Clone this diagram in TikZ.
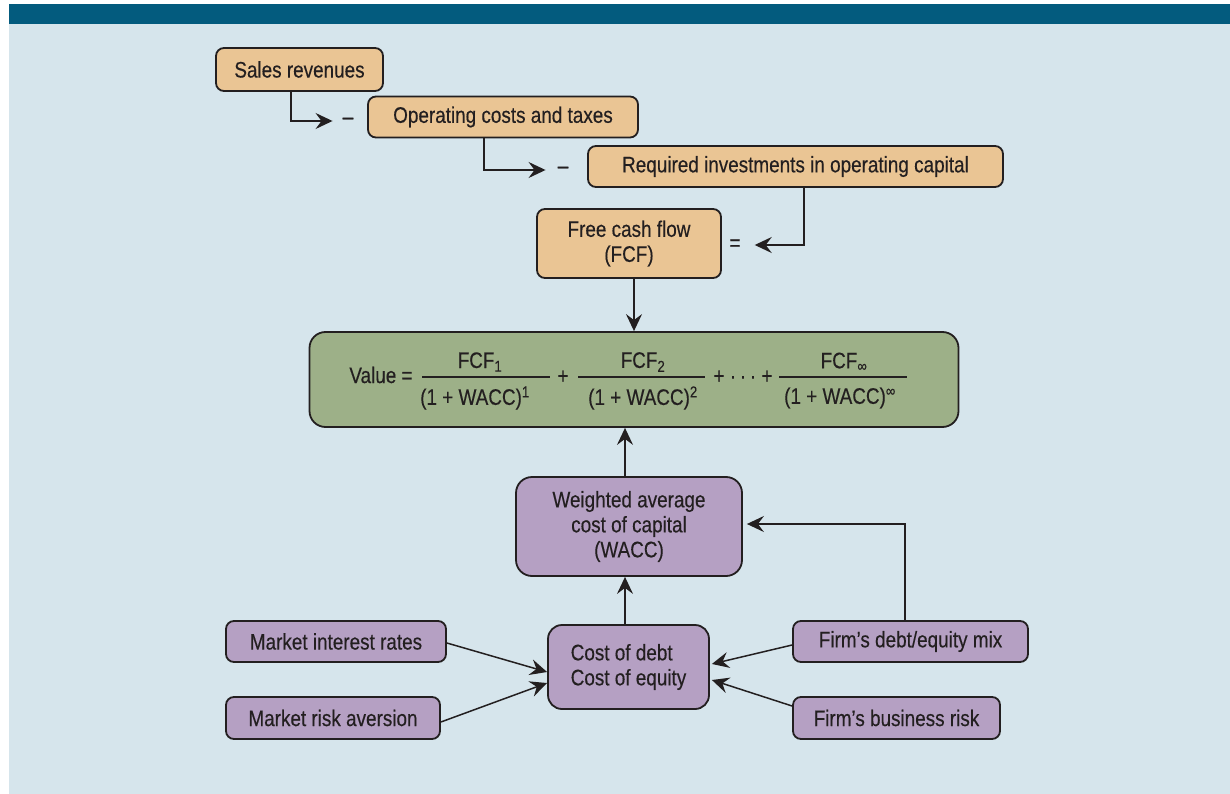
\documentclass[tikz,border=0pt]{standalone}
\usepackage{fontspec}
\setmainfont{Liberation Sans}[FakeStretch=0.84,FakeBold=0.3]
\usetikzlibrary{arrows.meta}
\definecolor{bgblue}{HTML}{D6E5EC}
\definecolor{barblue}{HTML}{035B7E}
\definecolor{ink}{HTML}{231F20}
\definecolor{sand}{HTML}{EAC594}
\definecolor{sage}{HTML}{9DB088}
\definecolor{lilac}{HTML}{B5A0C3}
\begin{document}
\begin{tikzpicture}[x=1pt,y=-1pt,
  label font/.style={font=\fontsize{22.5}{25}\selectfont},
  box/.style={draw=ink, line width=1.8pt, rounded corners=8pt, text=ink,
    label font, inner sep=0pt, align=center},
  cashbox/.style={box, fill=sand},
  valuebox/.style={box, fill=sage, rounded corners=16pt},
  costbox/.style={box, fill=lilac},
  txt/.style={text=ink, label font, inner sep=0pt},
  link/.style={draw=ink, line width=1.5pt,
    -{Stealth[length=17pt,width=16pt,inset=6pt]}},
  fracbar/.style={draw=ink, line width=1.2pt}
]
% canvas
\useasboundingbox (0,0) rectangle (1230,794);
\fill[bgblue] (9,24) rectangle (1230,794);
\fill[barblue] (9,4) rectangle (1230,24);

% free cash flow build-up
\node[cashbox, minimum width=167pt, minimum height=43pt] (sales) at (299.5,69.5) {Sales revenues};
\node[cashbox, minimum width=270pt, minimum height=41pt] (opc) at (503,117) {Operating costs and taxes};
\node[cashbox, minimum width=415pt, minimum height=41pt] (req) at (795.5,166.5) {Required investments in operating capital};
\node[cashbox, minimum width=184pt, minimum height=69pt] (fcf) at (629,243.5) {Free cash flow\\(FCF)};

\node[txt] (minus1) at (348,121) {–};
\node[txt] (minus2) at (563,170) {–};
\node[txt] (equals) at (735,245) {=};

\draw[link] ([xshift=-8.5pt]sales.south) |- ([xshift=-10pt]minus1.west);
\draw[link] ([xshift=-19pt]opc.south) |- ([xshift=-12pt]minus2.west);
\draw[link] ([xshift=8.5pt]req.south) |- ([xshift=14pt]equals.east);

% valuation formula
\node[valuebox, minimum width=649pt, minimum height=95pt] (value) at (634,379.5) {};
\node[txt] (vlab) at (381,375) {Value =};
\node[txt] (num1) at (480,362) {FCF\textsubscript{1}};
\node[txt] (den1) at (475,398) {(1 + WACC)\textsuperscript{1}};
\node[txt] (plus1) at (563,377) {+};
\node[txt] (num2) at (643,362) {FCF\textsubscript{2}};
\node[txt] (den2) at (643,398) {(1 + WACC)\textsuperscript{2}};
\node[txt] (dots) at (743,377) {+ ·\,·\,· +};
\node[txt] (num3) at (844,362) {FCF\textsubscript{∞}};
\node[txt] (den3) at (840,398) {(1 + WACC)\textsuperscript{∞}};
\draw[fracbar] (422,377) -- (550,377);
\draw[fracbar] (578,377) -- (705,377);
\draw[fracbar] (779,377) -- (907,377);

\draw[link] ([xshift=5pt]fcf.south) -- ([xshift=0pt]value.north);

% cost of capital
\node[costbox, rounded corners=16pt, minimum width=226pt, minimum height=99pt] (wacc) at (629,526.5) {Weighted average\\cost of capital\\(WACC)};
\node[costbox, rounded corners=14pt, minimum width=161pt, minimum height=84pt, align=left] (coe) at (628.5,667) {Cost of debt\\Cost of equity};
\node[costbox, minimum width=220pt, minimum height=41pt] (mir) at (336,641.5) {Market interest rates};
\node[costbox, minimum width=214pt, minimum height=42pt] (mra) at (333,718) {Market risk aversion};
\node[costbox, minimum width=235pt, minimum height=41pt] (fdm) at (910.5,641.5) {Firm’s debt/equity mix};
\node[costbox, minimum width=207pt, minimum height=42pt] (fbr) at (896.5,718) {Firm’s business risk};

\draw[link] ([xshift=-4pt]wacc.north) -- ([xshift=-9pt]value.south);
\draw[link] ([xshift=-3.5pt]coe.north) -- ([xshift=-4pt]wacc.south);
\draw[link] ([xshift=-5.5pt]fdm.north) |- ([xshift=4pt,yshift=2.5pt]wacc.east);
\draw[link] ([yshift=-1.5pt]mir.east) -- ([yshift=-5pt]coe.west);
\draw[link] ([yshift=-4pt]mra.east) -- ([yshift=-16pt]coe.west);
\draw[link] ([yshift=-3.5pt]fdm.west) -- ([xshift=2pt,yshift=3pt]coe.east);
\draw[link] ([yshift=12pt]fbr.west) -- ([xshift=2pt,yshift=-13pt]coe.east);
\end{tikzpicture}
\end{document}
